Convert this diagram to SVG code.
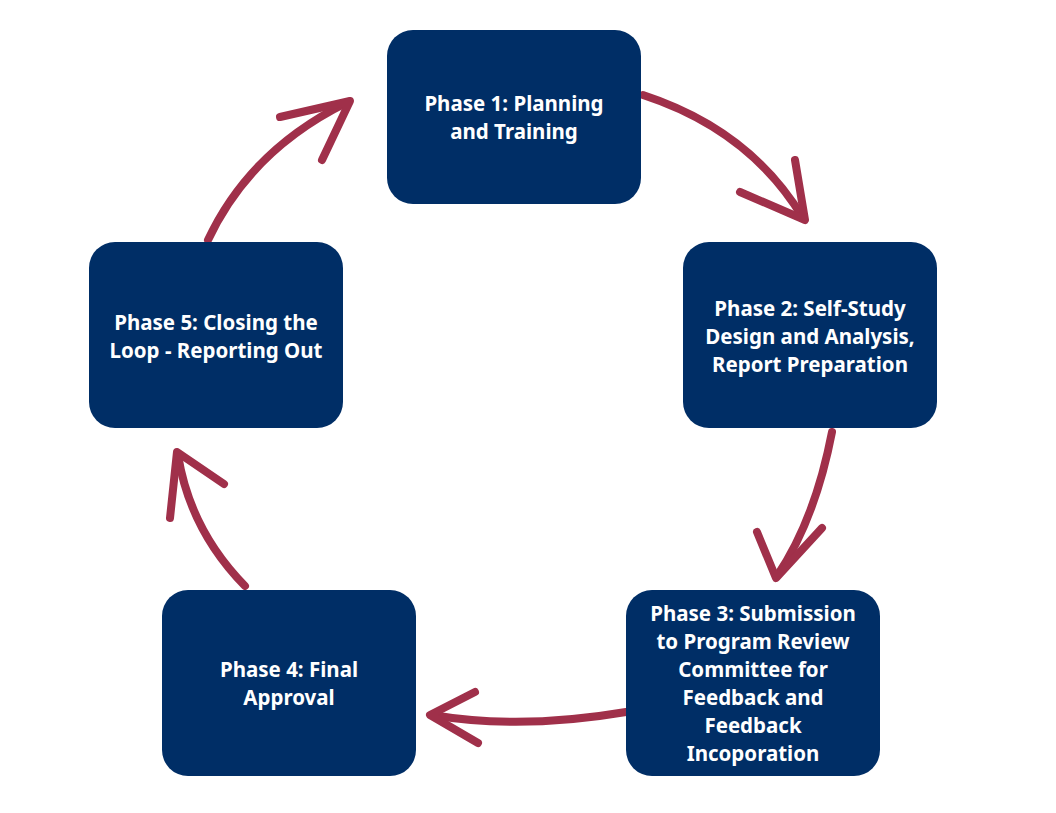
<svg xmlns="http://www.w3.org/2000/svg" width="1056" height="813" viewBox="0 0 1056 813">
<style>
.box{fill:#002e66}
.t{fill:#fff;font-family:"Noto Sans","Open Sans",sans-serif;font-weight:700;font-size:20.5px;text-anchor:middle}
.c{fill:none;stroke:#a0304a;stroke-width:8;stroke-linecap:round;stroke-linejoin:round}
</style>
<rect width="1056" height="813" fill="#fff"/>
<g id="connectors">
<path class="c" d="M643,95 Q750,130 803,218"/>
<path class="c" d="M740,192 L805,220 L795,160"/>
<path class="c" d="M832,432 Q815,520 777,576"/>
<path class="c" d="M757,532 L776,578 L822,528"/>
<path class="c" d="M626,712 Q520,730 432,715"/>
<path class="c" d="M475,692 L430,715 L478,743"/>
<path class="c" d="M245,586 Q190,530 178,455"/>
<path class="c" d="M170,518 L177,452 L224,484"/>
<path class="c" d="M208,240 Q250,150 348,102"/>
<path class="c" d="M280,117 L350,101 L322,160"/>
</g>
<g id="phase1"><rect class="box" x="387" y="30" width="254" height="174" rx="26"/>
<text class="t" x="514" y="111">Phase 1: Planning</text><text class="t" x="514" y="139">and Training</text></g>
<g id="phase2"><rect class="box" x="683" y="242" width="254" height="186" rx="26"/>
<text class="t" x="810" y="316">Phase 2: Self-Study</text><text class="t" x="810" y="344">Design and Analysis,</text><text class="t" x="810" y="372">Report Preparation</text></g>
<g id="phase3"><rect class="box" x="626" y="590" width="254" height="186" rx="26"/>
<text class="t" x="753" y="621">Phase 3: Submission</text><text class="t" x="753" y="649">to Program Review</text><text class="t" x="753" y="677">Committee for</text><text class="t" x="753" y="705">Feedback and</text><text class="t" x="753" y="733">Feedback</text><text class="t" x="753" y="761">Incoporation</text></g>
<g id="phase4"><rect class="box" x="162" y="590" width="254" height="186" rx="26"/>
<text class="t" x="289" y="677">Phase 4: Final</text><text class="t" x="289" y="705">Approval</text></g>
<g id="phase5"><rect class="box" x="89" y="242" width="254" height="186" rx="26"/>
<text class="t" x="216" y="330">Phase 5: Closing the</text><text class="t" x="216" y="358">Loop - Reporting Out</text></g>
</svg>
